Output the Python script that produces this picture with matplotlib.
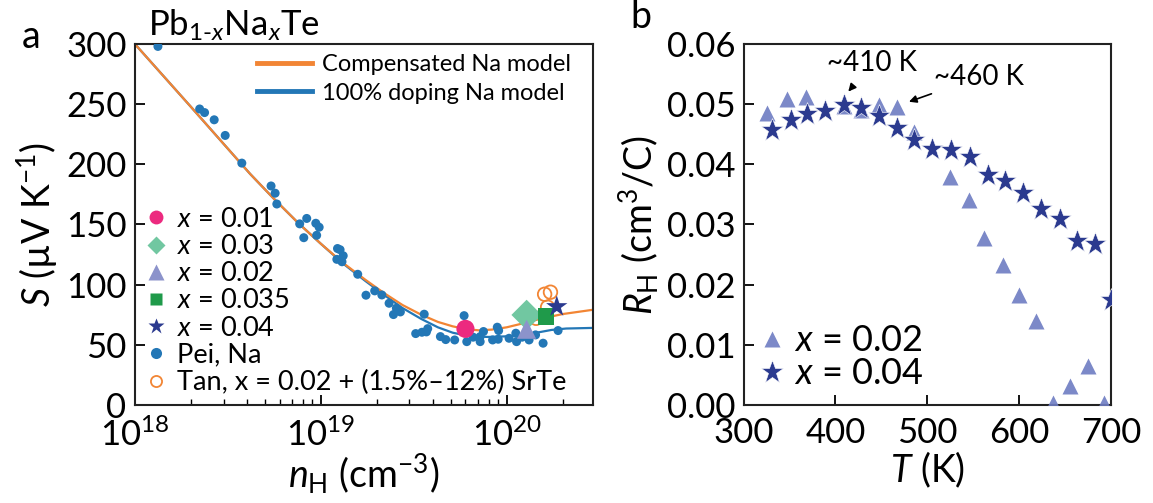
import numpy as np
import matplotlib
matplotlib.use('Agg')
import matplotlib.pyplot as plt
from matplotlib.lines import Line2D

plt.rcParams['font.family'] = ['Lato', 'DejaVu Sans']
plt.rcParams['mathtext.fontset'] = 'custom'
plt.rcParams['mathtext.rm'] = 'Lato'
plt.rcParams['mathtext.it'] = 'Lato:italic'
plt.rcParams['mathtext.bf'] = 'Lato:bold'

# ---------------- panel a: Seebeck vs Hall carrier density ----------------
# model curves (log10 n_H, S)
comp_logn = [18.0, 18.15, 18.30, 18.46, 18.62, 18.75, 18.88, 19.0, 19.12,
             19.24, 19.34, 19.44, 19.54, 19.63, 19.71, 19.78, 19.85, 19.92,
             20.0, 20.08, 20.18, 20.30, 20.46]
comp_S = [300, 274, 248, 220, 192, 171, 151, 134, 118,
          104, 93, 83, 75, 69, 65.3, 63, 62, 62.6,
          64.5, 67.5, 71.5, 75.5, 79]
full_logn = [18.0, 18.15, 18.30, 18.46, 18.62, 18.75, 18.88, 19.0, 19.12,
             19.24, 19.34, 19.44, 19.54, 19.63, 19.71, 19.78, 19.84, 19.90,
             20.0, 20.08, 20.16, 20.24, 20.32, 20.46]
full_S = [300, 274, 248, 220, 192, 171, 151, 134, 117.5,
          103, 91.5, 80.5, 71.5, 64.5, 60, 57.8, 56.8, 56.5,
          57, 58, 60, 62.3, 63.5, 64]

# Pei et al. Na-doped PbTe
pei_n = [1.33e18, 2.23e18, 2.37e18, 2.67e18, 3.06e18, 3.76e18, 5.4e18, 5.68e18,
         5.8e18, 7.7e18, 8.4e18, 9.4e18, 9.8e18, 9.5e18, 8.1e18, 1.23e19, 1.27e19,
         1.32e19, 1.22e19, 1.30e19, 1.58e19, 1.75e19, 1.95e19, 2.13e19, 2.33e19,
         2.55e19, 2.68e19, 2.46e19, 3.6e19, 3.24e19, 3.5e19, 3.7e19, 3.76e19,
         4.4e19, 4.7e19, 5.25e19, 5.9e19, 6.1e19, 6.6e19, 7.2e19, 7.2e19, 7.5e19,
         8.4e19, 8.9e19, 9.05e19, 9.0e19, 1.03e20, 1.12e20, 1.13e20, 1.21e20,
         1.32e20, 1.43e20, 1.57e20, 1.89e20]
pei_S = [298, 246, 243, 237, 224, 201, 182, 176,
         167, 150.5, 155, 151, 147.7, 141, 139, 130, 129,
         124, 121, 119, 108.6, 91.2, 94.8, 91.4, 84.5,
         80.4, 77.3, 75.1, 75.4, 59.3, 60.4, 60.7, 63.4,
         56.8, 54.3, 54, 74.2, 52.6, 56.3, 52.6, 56.8, 61,
         54, 64.6, 61.8, 54.6, 55.4, 59.6, 52.6, 56.3,
         54, 58.2, 51.3, 61.8]

# this work, Pb1-xNaxTe
n_x001, S_x001 = [6.0e19], [63.2]
n_x003, S_x003 = [1.28e20], [74.8]
n_x002, S_x002 = [1.28e20], [62.9]
n_x0035, S_x0035 = [1.63e20], [73.4]
n_x004, S_x004 = [1.86e20], [81.7]

# Tan et al., x = 0.02 + SrTe
tan_n = [1.60e20, 1.72e20, 1.44e20, 1.66e20]
tan_S = [92, 93.7, 72, 81.2]

# ---------------- panel b: Hall coefficient vs temperature ----------------
T_x002 = [325, 347, 368, 409, 428, 447, 467, 486, 525, 545, 562, 582,
          600, 618, 637, 655, 675, 693]
RH_x002 = [0.0485, 0.0509, 0.0512, 0.0497, 0.0490, 0.0498, 0.0496, 0.0454,
           0.0379, 0.0340, 0.0278, 0.0233, 0.0183, 0.0139, 0.0004, 0.0032,
           0.0065, 0.0004]
T_x004 = [331, 351, 369, 389, 409, 428, 447, 467, 485, 505, 526, 546, 566,
          585, 604, 624, 644, 663, 683, 700]
RH_x004 = [0.0457, 0.0473, 0.0484, 0.0488, 0.0498, 0.0494, 0.0480, 0.0461,
           0.0440, 0.0426, 0.0423, 0.0412, 0.0382, 0.0373, 0.0352, 0.0326,
           0.0309, 0.0272, 0.0268, 0.0175]

c_orange = '#f28534'
c_blue = '#2377b6'
c_pink = '#ec2a7f'
c_mint = '#71c7a1'
c_lav = '#8c93cb'
c_green = '#1f9a4a'
c_navy = '#2b3a8f'
c_tri = '#6e7cc2'

fig = plt.figure(figsize=(11.53, 5.03), dpi=100)
ax1 = fig.add_axes([0.117, 0.195, 0.397, 0.7175])
ax2 = fig.add_axes([0.645, 0.195, 0.3185, 0.7175])

for ax in (ax1, ax2):
    for sp in ax.spines.values():
        sp.set_linewidth(1.5)
        sp.set_color('#222222')
    ax.tick_params(direction='in', top=False, right=False, labelsize=25,
                   length=7, width=1.3, pad=6)
    ax.tick_params(axis='x', pad=9)
    ax.tick_params(which='minor', direction='in', top=False, right=False,
                   length=4, width=1.0)

# panel a
ax1.plot(10 ** np.array(full_logn), full_S, color=c_blue, lw=1.6, zorder=2)
ax1.plot(10 ** np.array(comp_logn), comp_S, color=c_orange, lw=1.6, zorder=2.1)
ax1.scatter(pei_n, pei_S, s=42, color=c_blue, edgecolor='none', zorder=3)
ax1.scatter(tan_n, tan_S, s=95, facecolor='none', edgecolor=c_orange, lw=1.3, zorder=3)
ax1.scatter(n_x001, S_x001, s=170, marker='o', color=c_pink, edgecolor='none', zorder=4)
ax1.scatter(n_x003, S_x003, s=240, marker='D', color=c_mint, edgecolor='none', zorder=4)
ax1.scatter(n_x002, S_x002, s=190, marker='^', color=c_lav, edgecolor='none', zorder=5)
ax1.scatter(n_x0035, S_x0035, s=140, marker='s', color=c_green, edgecolor='none', zorder=4)
ax1.scatter(n_x004, S_x004, s=260, marker='*', color=c_navy, edgecolor='none', zorder=4)

ax1.set_xscale('log')
ax1.set_xlim(1e18, 2.9e20)
ax1.set_ylim(0, 300)
ax1.set_yticks([0, 50, 100, 150, 200, 250, 300])
ax1.set_xlabel(r'$n_{\mathrm{H}}$ (cm$^{-3}$)', fontsize=27, labelpad=0)
ax1.set_ylabel(r'$S$ (µV K$^{-1}$)', fontsize=27, labelpad=4)

line_handles = [Line2D([], [], color=c_orange, lw=3.5),
                Line2D([], [], color=c_blue, lw=3.5)]
leg1 = ax1.legend(line_handles, ['Compensated Na model', '100% doping Na model'],
                  loc='upper right', bbox_to_anchor=(1.0, 1.03), frameon=False,
                  fontsize=17, handlelength=2.3, handletextpad=0.45,
                  labelspacing=0.3)
ax1.add_artist(leg1)

mk_handles = [
    Line2D([], [], ls='none', marker='o', ms=10, color=c_pink, mec='none'),
    Line2D([], [], ls='none', marker='D', ms=9, color=c_mint, mec='none'),
    Line2D([], [], ls='none', marker='^', ms=11, color=c_lav, mec='none'),
    Line2D([], [], ls='none', marker='s', ms=8, color=c_green, mec='none'),
    Line2D([], [], ls='none', marker='*', ms=12, color=c_navy, mec='none'),
    Line2D([], [], ls='none', marker='o', ms=8, color=c_blue, mec='none'),
    Line2D([], [], ls='none', marker='o', ms=8, mfc='none', mec=c_orange, mew=1.3),
]
mk_labels = [r'$x$ = 0.01', r'$x$ = 0.03', r'$x$ = 0.02', r'$x$ = 0.035',
             r'$x$ = 0.04', 'Pei, Na', 'Tan, x = 0.02 + (1.5%–12%) SrTe']
ax1.legend(mk_handles, mk_labels, loc='lower left', bbox_to_anchor=(-0.02, -0.025),
           frameon=False, fontsize=19.5, handlelength=0.8, handletextpad=0.4,
           labelspacing=0.08, borderaxespad=0.3)

fig.text(0.019, 0.905, 'a', fontsize=27)
fig.text(0.128, 0.93, r'Pb$_{1\text{-}x}$Na$_{x}$Te', fontsize=25)

# panel b
ax2.plot(T_x002, RH_x002, ls='none', marker='^', ms=12, color=c_tri, alpha=0.9,
         mec='none', zorder=3, label=r'$x$ = 0.02')
ax2.plot(T_x004, RH_x004, ls='none', marker='*', ms=17, color=c_navy,
         mec='white', mew=0.4, zorder=4, label=r'$x$ = 0.04')
ax2.set_xlim(300, 700)
ax2.set_ylim(0, 0.06)
ax2.set_xticks([300, 400, 500, 600, 700])
ax2.set_yticks([0, 0.01, 0.02, 0.03, 0.04, 0.05, 0.06])
ax2.yaxis.set_major_formatter(matplotlib.ticker.FormatStrFormatter('%.2f'))
ax2.set_xlabel(r'$T$ (K)', fontsize=27, labelpad=0)
ax2.set_ylabel(r'$R_{\mathrm{H}}$ (cm$^{3}$/C)', fontsize=27, labelpad=4)
ax2.legend(loc='lower left', bbox_to_anchor=(-0.02, -0.03), frameon=False,
           fontsize=26, handlelength=0.6, handletextpad=0.3, labelspacing=0.0,
           borderaxespad=0.3)

arrow_kw = dict(arrowstyle='-|>', color='black', lw=1.2, mutation_scale=11)
ax2.annotate('~410 K', xy=(414, 0.0521), xytext=(440, 0.0568), fontsize=20,
             ha='center', va='center',
             arrowprops=dict(shrinkA=10, shrinkB=0, **arrow_kw))
ax2.annotate('~460 K', xy=(480, 0.0504), xytext=(507, 0.0545), fontsize=20,
             ha='left', va='center',
             arrowprops=dict(shrinkA=2, shrinkB=0, **arrow_kw))

fig.text(0.547, 0.945, 'b', fontsize=27)

fig.savefig('out.png', dpi=100)
